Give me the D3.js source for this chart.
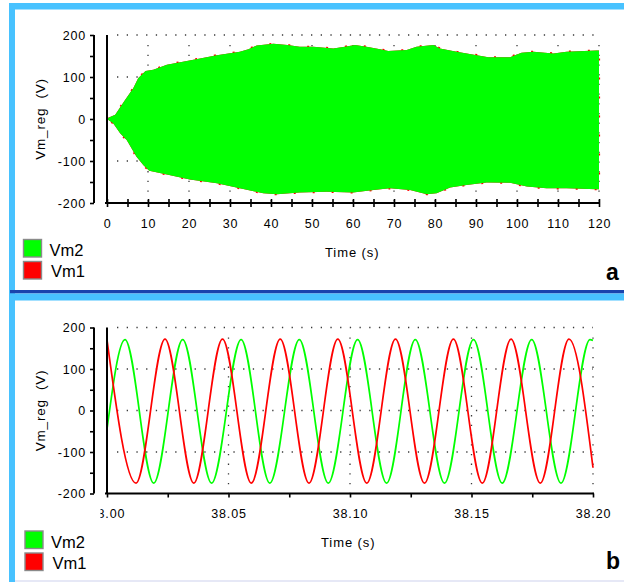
<!DOCTYPE html>
<html><head><meta charset="utf-8">
<script src="https://cdn.jsdelivr.net/npm/d3@7"></script>
<style>
html,body{margin:0;padding:0;background:#fff;}
svg{display:block;font-family:"Liberation Sans",Arial,Helvetica,sans-serif;}
</style>
</head><body><div id="chart"></div>
<script>
// ---------------- DATA ----------------
const seriesNames = ["Vm2", "Vm1"];
const seriesColors = ["#00ff00", "#ff0000"];

const yTicks = [200, 100, 0, -100, -200];
const yMinorTicks = [150, 50, -50, -150];
const yGrid = [200, 100, 0, -100];

// panel a (0..120 s)
const topXTicks = [0, 10, 20, 30, 40, 50, 60, 70, 80, 90, 100, 110, 120];
const topXMinorTicks = [5, 15, 25, 35, 45, 55, 65, 75, 85, 95, 105, 115];
const topXGrid = [10, 20, 30, 40, 50, 60, 70, 80, 90, 100, 110, 120];

// envelope of the fast oscillation (Vm2 ~ Vm1)
const envUpperTime  = [0, 0.6, 2, 4.4, 6.4, 7.6, 9.4, 11.3, 14.6, 18.2, 22.7, 26.8, 32.4, 34.5, 36.5, 40.6, 44, 47, 50.3, 55.2, 58, 60.5, 63.3, 66.6, 68.6, 73.1, 75.5, 79.6, 81.2, 85.3, 90.2, 93, 98.3, 101.1, 104, 108.9, 112.1, 119.4, 120];
const envUpperValue = [0, 4, 10, 45, 73, 97, 114, 117, 129, 136, 144, 152, 160, 166, 175, 179, 176, 172, 172, 168, 172, 176, 172, 166, 162, 164, 172, 176, 168, 160, 152, 147, 147, 158, 160, 156, 160, 163, 163];
const envLowerTime  = [0, 1.5, 3.2, 4.8, 7.2, 8.9, 10.3, 14.6, 20.2, 26.8, 32.4, 38.1, 41.4, 47, 53.6, 60, 65, 69, 73.9, 78, 80.4, 83.7, 87.7, 92.6, 98.3, 102.4, 107.2, 112.1, 119.4, 120];
const envLowerValue = [0, -10, -34, -50, -90, -110, -123, -132, -144, -153, -165, -177, -179, -175, -173, -175, -169, -165, -169, -179, -177, -163, -157, -151, -152, -161, -165, -165, -167, -167];

// panel b (38.00 .. 38.20 s) : extrema
const bottomXTicks = [38.00, 38.05, 38.10, 38.15, 38.20];
const bottomXLabels = ["38.00", "38.05", "38.10", "38.15", "38.20"];
const bottomXMinorTicks = [38.025, 38.075, 38.125, 38.175];
const bottomXGrid = [38.05, 38.10, 38.15, 38.20];

const vm2Time  = [38.0000, 38.00741, 38.01922, 38.03115, 38.04305, 38.05519, 38.06700, 38.07914, 38.09107, 38.10313, 38.11506, 38.12687, 38.13889, 38.15082, 38.16263, 38.17477, 38.18683, 38.19877, 38.2000];
const vm2Value = [-45, 171, -175, 171, -175, 171, -175, 171, -175, 171, -175, 171, -175, 171, -175, 171, -175, 171, 169];
const vm1Time  = [38.0000, 38.01193, 38.02387, 38.03572, 38.04753, 38.05938, 38.07128, 38.08313, 38.09498, 38.10691, 38.11872, 38.13066, 38.14255, 38.15444, 38.16626, 38.17831, 38.19012, 38.2000];
const vm1Value = [170, -175, 172, -175, 172, -175, 172, -175, 172, -175, 172, -175, 172, -175, 172, -175, 172, -138];

// ---------------- DRAW ----------------
const W = 624, H = 582;
const svg = d3.select("#chart").append("svg").attr("width", W).attr("height", H);
svg.append("rect").attr("width", W).attr("height", H).attr("fill", "#fff");

// frame
const lightBlue = "#48c2ff", darkBlue = "#1a44ad";
svg.append("rect").attr("x", 9).attr("y", 3).attr("width", W - 9).attr("height", 6.5).attr("fill", lightBlue);
svg.append("rect").attr("x", 9).attr("y", 3).attr("width", 6).attr("height", H - 3).attr("fill", lightBlue);
svg.append("rect").attr("x", 10).attr("y", 290).attr("width", W - 10).attr("height", 3.5).attr("fill", darkBlue);
svg.append("rect").attr("x", 9).attr("y", 293.5).attr("width", W - 9).attr("height", 7).attr("fill", lightBlue);
svg.append("rect").attr("x", 15).attr("y", 580).attr("width", W - 15).attr("height", 2).attr("fill", "#e6e8f6");

const defs = svg.append("defs");

function drawPanel(cfg) {
  const g = svg.append("g");
  const x = d3.scaleLinear().domain(cfg.xDomain).range(cfg.xRange);
  const y = d3.scaleLinear().domain([-200, 200]).range(cfg.yRange);

  // grid (dotted)
  const gridG = g.append("g").attr("stroke", "#3a3a3a").attr("stroke-width", 1.3)
    .attr("stroke-dasharray", "1.3 8.4");
  gridG.selectAll("line.h").data(yGrid).join("line").attr("class", "h")
    .attr("x1", cfg.xRange[0] + 10).attr("x2", cfg.xRange[1])
    .attr("y1", d => y(d)).attr("y2", d => y(d));
  gridG.selectAll("line.v").data(cfg.xGrid).join("line").attr("class", "v")
    .attr("x1", d => x(d)).attr("x2", d => x(d))
    .attr("y1", y(200) + 10).attr("y2", y(-200));

  cfg.drawData(g, x, y);

  // y axis (separate line at left)
  const yAxis = d3.axisLeft(y).tickValues(yTicks.concat(yMinorTicks))
    .tickSize(4).tickSizeOuter(0).tickPadding(4)
    .tickFormat(d => yTicks.includes(d) ? String(d) : "");
  const ya = g.append("g").attr("transform", `translate(${cfg.yAxisX},0)`).call(yAxis);
  ya.select(".domain").remove();
  ya.selectAll(".tick line").attr("stroke", "#000").attr("stroke-width", 1.6);
  ya.selectAll(".tick text").attr("font-size", 12.5).attr("letter-spacing", "0.8px")
    .attr("fill", "#000").attr("font-family", "'Liberation Sans',Arial,sans-serif");
  ya.append("line").attr("x1", 0).attr("x2", 0).attr("y1", y(200)).attr("y2", y(-200))
    .attr("stroke", "#000").attr("stroke-width", 2);

  // plot left edge line
  g.append("line").attr("x1", cfg.xRange[0]).attr("x2", cfg.xRange[0])
    .attr("y1", y(200)).attr("y2", y(-200)).attr("stroke", "#000").attr("stroke-width", 2);

  // x axis with cross ticks
  const xAxis = d3.axisBottom(x).tickValues(cfg.xTicks.concat(cfg.xMinor))
    .tickSize(4).tickSizeOuter(0).tickPadding(12)
    .tickFormat(cfg.xFormat);
  const xa = g.append("g").attr("transform", `translate(0,${y(-200)})`).call(xAxis);
  xa.select(".domain").remove();
  xa.selectAll(".tick line").attr("y1", -4).attr("y2", 4).attr("stroke", "#000").attr("stroke-width", 1.6);
  xa.selectAll(".tick text").attr("font-size", 12.5).attr("letter-spacing", "0.8px")
    .attr("fill", "#000").attr("font-family", "'Liberation Sans',Arial,sans-serif");
  if (cfg.labelClip) xa.attr("clip-path", `url(#${cfg.labelClip})`);
  g.append("line").attr("x1", cfg.xRange[0] - 2).attr("x2", cfg.xRange[1] + 1)
    .attr("y1", y(-200)).attr("y2", y(-200)).attr("stroke", "#000").attr("stroke-width", 2);

  // titles
  g.append("text").attr("x", cfg.xTitleX).attr("y", cfg.xTitleY).attr("font-size", 13)
    .attr("letter-spacing", "0.9px").text("Time (s)");
  g.append("text").attr("transform", `translate(${cfg.yTitleX},${y(0)}) rotate(-90)`)
    .attr("text-anchor", "middle").attr("font-size", 13.5).attr("letter-spacing", "0.8px")
    .style("white-space", "pre").text("Vm_reg  (V)");

  // legend
  const lg = g.append("g");
  seriesNames.forEach((n, i) => {
    lg.append("rect").attr("x", cfg.legX).attr("y", cfg.legY + i * 22).attr("width", 18).attr("height", 17.5)
      .attr("fill", seriesColors[i]).attr("stroke", "#8a8a8a").attr("stroke-width", 1.4);
    lg.append("text").attr("x", cfg.legX + 26 + i * 1.5).attr("y", cfg.legY + 16.5 + i * 21)
      .attr("font-size", 16.5).text(n);
  });

  // panel letter
  g.append("text").attr("x", 606).attr("y", cfg.letterY).attr("font-size", 23)
    .attr("font-weight", "bold").text(cfg.letter);
}

// panel a
drawPanel({
  xDomain: [0, 120], xRange: [107, 599], yRange: [203, 35],
  xGrid: topXGrid, xTicks: topXTicks, xMinor: topXMinorTicks,
  xFormat: d => topXTicks.includes(d) ? String(d) : "",
  yAxisX: 94, xTitleX: 325, xTitleY: 257, yTitleX: 45,
  legX: 23.5, legY: 239.5, letter: "a", letterY: 280,
  drawData: (g, x, y) => {
    const pts = envUpperTime.map((t, i) => [t, envUpperValue[i]])
      .concat(envLowerTime.map((t, i) => [t, envLowerValue[i]]).reverse());
    const line = d3.line().x(d => x(d[0])).y(d => y(d[1]));
    // Vm1 (red) underneath, peeking out as sparse dots at the edge
    g.append("path").attr("d", line(pts) + "Z").attr("fill", seriesColors[1])
      .attr("stroke", seriesColors[1]).attr("stroke-width", 2.2).attr("stroke-dasharray", "2 17");
    // Vm2 (green) on top
    g.append("path").attr("d", line(pts) + "Z").attr("fill", seriesColors[0]);
  }
});

// clip for partially hidden first bottom label
defs.append("clipPath").attr("id", "bclip").append("rect")
  .attr("x", 100.5).attr("y", 0).attr("width", 600).attr("height", 600);

// panel b
drawPanel({
  xDomain: [38.00, 38.20], xRange: [107, 593], yRange: [493.5, 327.5],
  xGrid: bottomXGrid, xTicks: bottomXTicks, xMinor: bottomXMinorTicks,
  xFormat: d => { const i = bottomXTicks.findIndex(v => Math.abs(v - d) < 1e-9); return i >= 0 ? bottomXLabels[i] : ""; },
  yAxisX: 94, xTitleX: 321, xTitleY: 547, yTitleX: 45,
  legX: 25, legY: 531, letter: "b", letterY: 569,
  labelClip: "bclip",
  drawData: (g, x, y) => {
    defs.append("clipPath").attr("id", "pclip").append("rect")
      .attr("x", 107).attr("y", 320).attr("width", 487).attr("height", 180);
    const line = d3.line().curve(d3.curveMonotoneX).x(d => x(d[0])).y(d => y(d[1]));
    const cg = g.append("g").attr("clip-path", "url(#pclip)").attr("fill", "none").attr("stroke-width", 1.7);
    cg.append("path").attr("d", line(vm2Time.map((t, i) => [t, vm2Value[i]]))).attr("stroke", seriesColors[0]);
    cg.append("path").attr("d", line(vm1Time.map((t, i) => [t, vm1Value[i]]))).attr("stroke", seriesColors[1]);
  }
});
</script>
</body></html>
